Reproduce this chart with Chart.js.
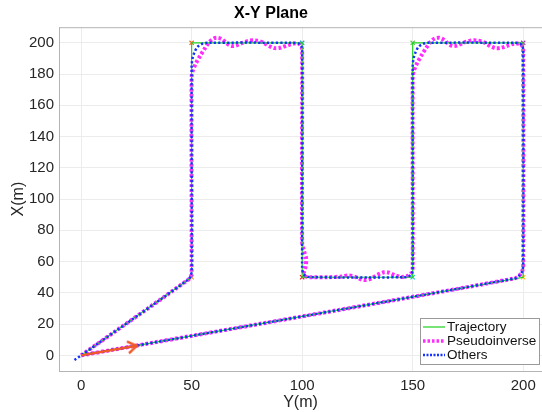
<!DOCTYPE html>
<html>
<head>
<meta charset="utf-8">
<script src="https://cdn.jsdelivr.net/npm/chart.js@4"></script>
<style>
  body { margin: 0; background: #fff; }
  #wrap { width: 542px; height: 412px; position: relative; }
</style>
</head>
<body>
<div id="wrap"><canvas id="xyChart"></canvas></div>
<script>
const xTicks = [0, 50, 100, 150, 200];
const yTicks = [0, 20, 40, 60, 80, 100, 120, 140, 160, 180, 200];

// reference trajectory (Y, X)
const trajY = [0, 50, 50, 100, 100, 150, 150, 200, 200, 0];
const trajX = [0, 50, 200, 200, 50, 50, 200, 200, 50, 0];

// pseudoinverse tracking, wobbles after the corners
const pinvY = [0, 48.8, 49.8, 50, 50, 50.5, 52, 54, 56, 58, 60, 62, 64, 66, 68, 70, 73, 76, 79, 82, 85, 87.5, 90, 93, 96, 98.5, 99.7, 100,
  100, 100.8, 101.8, 101.6, 100.8, 101.5, 104, 112, 118, 121, 124, 127, 129, 131, 134, 137, 139, 142, 145, 148, 149.6, 150,
  150, 150.5, 152, 154, 156, 158, 160, 162, 164, 166, 168, 170, 173, 176, 179, 182, 185, 187.5, 190, 193, 196, 198.5, 199.7, 200,
  200, 199.6, 198.5, 196, 0];
const pinvX = [0, 48.8, 51, 54, 178, 182, 187, 192, 196.5, 200.5, 202.8, 203.2, 202, 199.5, 198, 198.2, 200, 201.4, 201.5, 200.5, 198, 196.6, 196.8, 198.2, 199.5, 199.3, 197.5, 194,
  72, 67, 62, 57, 53, 50.5, 50, 50, 50.5, 51.2, 50.2, 48.5, 48.2, 49, 51.5, 53.2, 53, 51.2, 50.2, 51, 53, 56,
  178, 182, 187, 192, 196.5, 200.5, 202.8, 203.2, 202, 199.5, 198, 198.2, 200, 201.4, 201.5, 200.5, 198, 196.6, 196.8, 198.2, 199.5, 199.3, 197.5, 194,
  58, 54, 51.5, 49.2, 0];

// other method, rounded corners
const othY = [-3, 0, 48.5, 49.6, 50, 50, 50.4, 51.3, 52.6, 54.5, 57, 96, 98.5, 99.6, 100,
  100, 100.5, 102, 104, 146, 148.5, 149.6, 150,
  150, 150.4, 151.3, 152.6, 154.5, 157, 196, 198.5, 199.6, 200,
  200, 199.6, 198.5, 196, 0];
const othX = [-3, 0, 48.5, 51, 54, 185, 190, 194, 197.3, 199.2, 200, 200, 199.5, 198, 195,
  56, 52.5, 50.6, 50, 50, 50.8, 52.5, 55,
  185, 190, 194, 197.3, 199.2, 200, 200, 199.5, 198, 195,
  58, 54, 51.5, 49.2, 0];

// start heading arrow
const arrowY = [0, 25.2];
const arrowX = [0, 6.1];

// waypoint markers
const wpY = [50, 50, 100, 100, 150, 150, 200, 200];
const wpX = [50, 200, 200, 50, 50, 200, 200, 50];
const wpColors = ["#f0a020", "#e06a20", "#20a0c8", "#d82020", "#20c8c8", "#60c050", "#a040a0", "#f0c020"];

const zip = (xs, ys) => xs.map((v, i) => ({ x: v, y: ys[i] }));

// open arrow head, tip in the middle of the canvas
const head = document.createElement("canvas");
head.width = 24;
head.height = 24;
{
  const g = head.getContext("2d");
  g.strokeStyle = "#f05a28";
  g.lineWidth = 2.5;
  g.lineJoin = "miter";
  g.beginPath();
  g.moveTo(3, 6);
  g.lineTo(12, 12);
  g.lineTo(3, 18);
  g.stroke();
}

const legendItems = [
  { text: "Trajectory", color: "#1fd21f", width: 1.2, dash: [] },
  { text: "Pseudoinverse", color: "#ff2bff", width: 3.5, dash: [2.5, 2] },
  { text: "Others", color: "#1530ff", width: 2.5, dash: [2, 1.5] },
];

const framePlugin = {
  id: "frame",
  afterDraw(chart) {
    const { ctx, chartArea: a } = chart;
    ctx.save();
    // top edge of the box (right edge falls off the picture)
    ctx.strokeStyle = "#b4b4b4";
    ctx.lineWidth = 1;
    ctx.beginPath();
    ctx.moveTo(a.left, a.top + 0.5);
    ctx.lineTo(a.right, a.top + 0.5);
    ctx.stroke();

    // legend box, bottom right inside the axes
    const bx = 420.5, by = 318.5, bw = 119, bh = 46;
    ctx.fillStyle = "#fff";
    ctx.fillRect(bx, by, bw, bh);
    ctx.strokeStyle = "#9a9a9a";
    ctx.strokeRect(bx, by, bw, bh);
    ctx.font = "13.5px 'Liberation Sans', Arial, sans-serif";
    ctx.textBaseline = "middle";
    legendItems.forEach((it, i) => {
      const y = 327 + i * 14;
      ctx.strokeStyle = it.color;
      ctx.lineWidth = it.width;
      ctx.setLineDash(it.dash);
      ctx.beginPath();
      ctx.moveTo(423, y);
      ctx.lineTo(445, y);
      ctx.stroke();
      ctx.setLineDash([]);
      ctx.fillStyle = "#111";
      ctx.fillText(it.text, 447, y + 0.5);
    });
    ctx.restore();
  },
};

new Chart(document.getElementById("xyChart"), {
  type: "scatter",
  data: {
    datasets: [
      {
        label: "Arrow",
        data: zip(arrowY, arrowX),
        showLine: true,
        borderColor: "#f05a28",
        borderWidth: 2.5,
        pointRadius: [0, 6],
        pointStyle: [false, head],
        rotation: -10,
        order: 0,
      },
      {
        label: "Others",
        data: zip(othY, othX),
        showLine: true,
        borderColor: "#1530ff",
        borderWidth: 2.5,
        borderDash: [2.2, 2.2],
        tension: 0.3,
        pointRadius: 0,
        order: 1,
      },
      {
        label: "Trajectory",
        data: zip(trajY, trajX),
        showLine: true,
        borderColor: "#1fd21f",
        borderWidth: 1.2,
        pointRadius: 0,
        order: 2,
      },
      {
        label: "Pseudoinverse",
        data: zip(pinvY, pinvX),
        showLine: true,
        borderColor: "#ff2bff",
        borderWidth: 4,
        borderDash: [2.8, 2.2],
        tension: 0.3,
        pointRadius: 0,
        order: 3,
      },
      {
        label: "Waypoints",
        data: zip(wpY, wpX),
        pointStyle: "crossRot",
        pointRadius: 3,
        borderWidth: 1.2,
        borderColor: wpColors,
        order: 4,
      },
    ],
  },
  options: {
    responsive: true,
    maintainAspectRatio: false,
    animation: false,
    layout: { padding: 0, autoPadding: false },
    plugins: {
      legend: { display: false },
      tooltip: { enabled: false },
      title: {
        display: true,
        text: "X-Y Plane",
        color: "#000",
        font: { family: "'Liberation Sans', Arial, sans-serif", size: 16, weight: "bold" },
        padding: { top: 4, bottom: 4 },
      },
    },
    scales: {
      x: {
        type: "linear",
        min: -10,
        max: 208.5,
        afterBuildTicks: (s) => { s.ticks = xTicks.map((v) => ({ value: v })); },
        afterFit: (s) => { s.height = 41; s.paddingLeft = 0; s.paddingRight = 0; },
        grid: { color: "#ececec", drawTicks: false },
        border: { color: "#b4b4b4" },
        ticks: {
          color: "#262626",
          padding: 6,
          font: { family: "'Liberation Sans', Arial, sans-serif", size: 15 },
        },
        title: {
          display: true,
          text: "Y(m)",
          color: "#262626",
          padding: { top: 0, bottom: 0 },
          font: { family: "'Liberation Sans', Arial, sans-serif", size: 16 },
        },
      },
      y: {
        type: "linear",
        min: -10,
        max: 210,
        afterBuildTicks: (s) => { s.ticks = yTicks.map((v) => ({ value: v })); },
        afterFit: (s) => { s.width = 59; s.paddingTop = 0; s.paddingBottom = 0; },
        grid: { color: "#ececec", drawTicks: false },
        border: { color: "#b4b4b4" },
        ticks: {
          color: "#262626",
          padding: 5,
          font: { family: "'Liberation Sans', Arial, sans-serif", size: 15 },
        },
        title: {
          display: true,
          text: "X(m)",
          color: "#262626",
          padding: { top: 9, bottom: 0 },
          font: { family: "'Liberation Sans', Arial, sans-serif", size: 16 },
        },
      },
    },
  },
  plugins: [framePlugin],
});
</script>
</body>
</html>
